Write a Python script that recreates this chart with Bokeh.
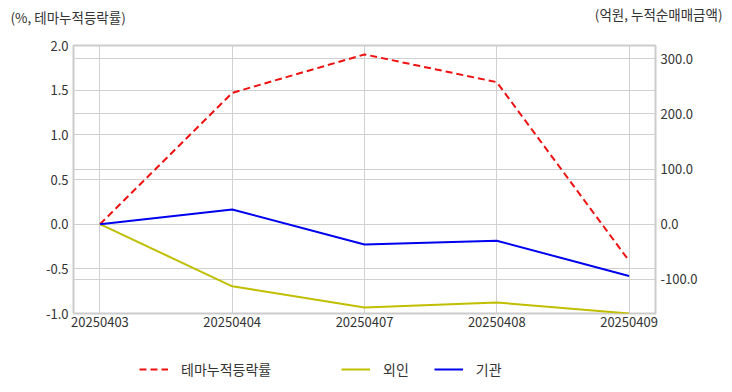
from bokeh.plotting import figure
from bokeh.layouts import column
from bokeh.models import (Range1d, LinearAxis, FixedTicker, Legend, LegendItem,
                          Label, ColumnDataSource, Grid, CustomJSTickFormatter)
from bokeh.embed import file_html
from bokeh.resources import INLINE

dates = ["20250403", "20250404", "20250407", "20250408", "20250409"]
theme_pct = [0.0, 1.47, 1.90, 1.59, -0.41]
foreign_amt = [0.0, -112.7, -151.0, -142.0, -162.0]
inst_amt = [0.0, 26.7, -37.0, -30.0, -94.0]
series_names = ["테마누적등락률", "외인", "기관"]
left_title = "(%, 테마누적등락률)"
right_title = "(억원, 누적순매매금액)"

left_ticks = [-1.0, -0.5, 0.0, 0.5, 1.0, 1.5, 2.0]
right_ticks = [-100.0, 0.0, 100.0, 200.0, 300.0]

FONT = "Noto Sans CJK KR"
GRID = "#d0d0d0"
TXT = "#333333"
C_RED, C_YEL, C_BLU = "#ee1111", "#bfbf00", "#0000ee"
W = 732

xs = list(range(len(dates)))
src = ColumnDataSource(dict(x=xs, theme=theme_pct, foreign=foreign_amt, inst=inst_amt))

# ---------- main chart ----------
p = figure(width=W, height=345, output_backend="svg", toolbar_location=None,
           x_range=Range1d(-0.2, len(dates) - 0.8), y_range=Range1d(-1.0, 2.0),
           min_border_left=73, min_border_right=77, min_border_top=45, min_border_bottom=32)
p.extra_y_ranges = {"amt": Range1d(-162.0, 324.0)}
p.outline_line_color = "#cccccc"
p.outline_line_width = 2

xa = p.xaxis[0]
xa.ticker = FixedTicker(ticks=xs)
xa.major_label_overrides = {i: d for i, d in enumerate(dates)}
ya = p.yaxis[0]
ya.ticker = FixedTicker(ticks=left_ticks)
ya.formatter = CustomJSTickFormatter(code="return tick.toFixed(1);")
ra = LinearAxis(y_range_name="amt", ticker=FixedTicker(ticks=right_ticks),
                formatter=CustomJSTickFormatter(code="return tick.toFixed(1);"))
p.add_layout(ra, "right")

for ax in [xa, ya, ra]:
    ax.axis_line_color = None
    ax.major_tick_line_color = None
    ax.minor_tick_line_color = None
    ax.major_tick_out = 0
    ax.major_tick_in = 0
    ax.minor_tick_out = 0
    ax.major_label_text_font = FONT
    ax.major_label_text_font_size = "13px"
    ax.major_label_text_color = TXT
    ax.major_label_standoff = 5
xa.major_label_standoff = 3

p.xgrid.grid_line_color = GRID
p.ygrid.grid_line_color = GRID
p.add_layout(Grid(dimension=1, ticker=ra.ticker, y_range_name="amt", grid_line_color=GRID))

p.line("x", "theme", source=src, line_color=C_RED, line_width=2, line_dash="7 4")
p.line("x", "foreign", source=src, y_range_name="amt", line_color=C_YEL, line_width=2)
p.line("x", "inst", source=src, y_range_name="amt", line_color=C_BLU, line_width=2)

p.add_layout(Label(x=-63, y=29, x_units="screen", y_units="screen", text=left_title,
                   text_font=FONT, text_font_size="13.5px", text_color=TXT, text_baseline="middle"), "above")
p.add_layout(Label(x=649, y=12, x_units="screen", y_units="screen", text=right_title,
                   text_font=FONT, text_font_size="13.5px", text_color=TXT, text_baseline="middle",
                   text_align="right"), "above")

# ---------- legend strip ----------
ftr = figure(width=W, height=47, output_backend="svg", toolbar_location=None,
             x_axis_type=None, y_axis_type=None, x_range=Range1d(0, 1), y_range=Range1d(0, 1),
             min_border=0, outline_line_color=None)
# single-point proxies (a one-point line draws nothing) used only for legend samples
k1 = ftr.line(x=[xs[0]], y=[theme_pct[0]], line_color=C_RED, line_width=2, line_dash="7 4")
k2 = ftr.line(x=[xs[0]], y=[foreign_amt[0]], line_color=C_YEL, line_width=2)
k3 = ftr.line(x=[xs[0]], y=[inst_amt[0]], line_color=C_BLU, line_width=2)

def mk_legend(items, loc):
    lg = Legend(items=items, orientation="horizontal", location=loc,
                border_line_color=None, background_fill_alpha=0,
                padding=0, margin=0, spacing=25, glyph_width=29, glyph_height=16,
                label_standoff=13, label_text_font=FONT, label_text_font_size="14px",
                label_text_color=TXT, label_height=20)
    ftr.add_layout(lg)

mk_legend([LegendItem(label=series_names[0], renderers=[k1])], (66, 13))
mk_legend([LegendItem(label=series_names[1], renderers=[k2]),
           LegendItem(label=series_names[2], renderers=[k3])], (268, 13))

layout = column(p, ftr, spacing=0)
open("out.html", "w").write(file_html(layout, INLINE))
